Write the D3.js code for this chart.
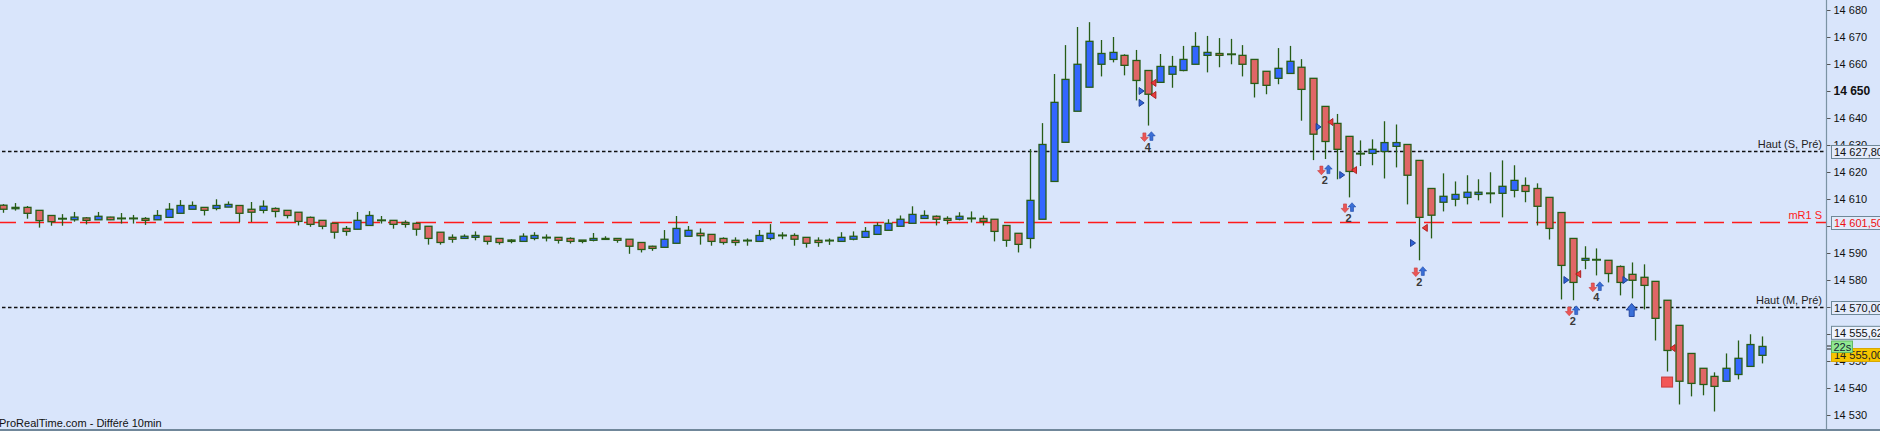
<!DOCTYPE html>
<html><head><meta charset="utf-8">
<script src="https://cdn.jsdelivr.net/npm/d3@7"></script>
<style>
html,body{margin:0;padding:0;background:#d9e5fb;overflow:hidden}
svg{display:block}
text{font-family:"Liberation Sans",Arial,Helvetica,sans-serif}
</style></head><body>
<svg id="c" width="1880" height="431"></svg>
<script>
// ---- DATA ----
const opens=[14607.7,14606.4,14606.9,14605.8,14603.9,14602.7,14602.3,14603.0,14602.3,14603.3,
14602.8,14602.8,14602.8,14602.3,14603.2,14604.7,14606.2,14606.9,14606.5,14607.0,
14607.6,14606.2,14605.8,14606.5,14605.8,14605.1,14603.2,14602.1,14601.0,14599.1,
14598.8,14600.2,14602.1,14602.1,14601.3,14601.0,14599.9,14597.7,14595.8,14595.4,
14595.8,14596.2,14595.4,14594.8,14594.3,14595.4,14595.7,14595.8,14595.4,14594.8,
14594.7,14595.1,14595.4,14595.1,14593.9,14592.5,14592.1,14593.6,14596.2,14597.3,
14596.9,14595.4,14594.7,14594.6,14594.3,14595.4,14596.5,14596.5,14595.8,14594.7,
14594.6,14594.3,14595.1,14595.8,14596.9,14598.4,14599.9,14601.0,14602.8,14603.6,
14602.8,14602.5,14602.8,14602.8,14602.5,14600.2,14597.3,14595.4,14602.5,14616.5,
14631.0,14642.5,14651.4,14659.9,14661.7,14663.2,14661.3,14657.6,14653.2,14656.2,
14657.6,14659.9,14663.2,14663.9,14663.6,14663.2,14661.7,14657.3,14654.7,14656.5,
14658.8,14654.7,14644.3,14638.0,14633.2,14626.8,14626.9,14627.6,14629.5,14630.2,
14624.3,14613.9,14608.8,14609.9,14610.6,14611.7,14612.1,14612.1,14613.2,14615.0,
14613.9,14610.6,14605.0,14595.4,14587.3,14587.5,14587.3,14585.0,14582.1,14581.0,
14579.5,14572.5,14563.2,14552.8,14547.3,14544.3,14542.5,14545.0,14548.0,14552.1];
const highs=[14608.1,14608.5,14607.4,14605.9,14604.0,14604.4,14605.2,14603.3,14605.2,14603.4,
14604.8,14604.1,14603.3,14605.9,14608.5,14609.6,14609.1,14606.9,14609.9,14609.1,
14607.7,14608.9,14609.5,14606.9,14605.8,14605.1,14603.5,14602.1,14601.0,14600.0,
14605.2,14605.5,14603.7,14602.1,14602.1,14601.3,14599.9,14597.7,14596.9,14596.9,
14598.0,14596.2,14595.4,14595.1,14597.3,14597.7,14596.9,14595.8,14595.8,14594.8,
14597.4,14596.2,14595.4,14595.1,14593.9,14592.7,14598.5,14603.7,14600.0,14599.1,
14596.9,14595.8,14595.8,14595.4,14598.5,14600.7,14597.7,14597.3,14595.8,14595.8,
14595.4,14597.7,14598.0,14599.6,14601.3,14602.5,14603.9,14607.3,14605.8,14603.9,
14603.6,14605.1,14605.4,14603.9,14602.5,14600.2,14597.3,14628.5,14638.1,14656.3,
14667.0,14673.7,14675.5,14668.9,14670.0,14663.6,14665.2,14657.6,14663.7,14663.0,
14666.7,14671.8,14670.4,14669.6,14669.3,14667.0,14661.7,14657.3,14665.9,14666.7,
14661.8,14654.7,14644.3,14641.5,14633.2,14631.7,14632.1,14638.8,14637.6,14630.2,
14624.3,14613.9,14619.5,14616.5,14618.8,14617.3,14619.9,14624.3,14622.5,14618.0,
14615.8,14610.6,14605.0,14595.4,14592.5,14591.7,14587.3,14585.4,14586.5,14585.8,
14579.5,14572.5,14563.2,14552.8,14547.3,14545.8,14552.8,14557.6,14559.9,14559.1];
const lows=[14604.9,14605.7,14602.7,14599.4,14600.1,14600.1,14601.6,14600.6,14602.3,14602.2,
14600.9,14600.9,14600.4,14602.3,14603.2,14604.7,14606.2,14603.9,14605.8,14607.0,
14601.5,14601.5,14604.7,14603.2,14602.8,14600.2,14599.7,14598.8,14595.3,14596.4,
14598.8,14600.2,14600.9,14599.0,14599.4,14596.4,14593.1,14593.1,14593.8,14595.4,
14594.7,14593.1,14593.1,14593.6,14594.3,14594.7,14594.3,14593.5,14593.5,14593.6,
14594.3,14595.1,14593.8,14589.7,14590.2,14590.8,14592.1,14593.6,14596.2,14593.1,
14592.7,14593.1,14592.7,14592.7,14594.3,14594.7,14595.1,14592.7,14592.0,14592.3,
14593.0,14594.3,14594.7,14595.8,14596.9,14598.4,14599.9,14601.0,14602.8,14600.2,
14600.6,14602.1,14601.3,14600.2,14594.3,14592.3,14590.2,14591.7,14602.5,14616.5,
14631.0,14642.5,14651.4,14655.4,14660.6,14655.8,14646.5,14637.2,14653.2,14651.2,
14657.3,14659.9,14656.9,14658.8,14659.9,14655.4,14647.6,14648.8,14652.5,14656.5,
14639.0,14624.4,14624.8,14617.3,14610.6,14622.2,14622.5,14617.6,14621.7,14608.0,
14587.3,14595.4,14605.4,14607.3,14608.0,14609.5,14608.4,14603.2,14610.6,14608.8,
14600.2,14595.0,14572.8,14572.5,14584.0,14581.7,14579.1,14574.3,14573.2,14569.1,
14557.6,14546.1,14533.9,14536.9,14537.3,14531.3,14542.5,14543.2,14548.0,14549.1];
const closes=[14606.2,14606.9,14604.7,14602.0,14601.6,14602.7,14603.3,14602.1,14603.6,14602.3,
14602.8,14602.8,14602.1,14603.9,14606.2,14607.6,14607.6,14605.8,14607.6,14608.0,
14604.7,14605.1,14607.3,14605.4,14603.9,14601.7,14600.6,14599.9,14597.7,14598.0,
14602.1,14603.9,14602.1,14600.6,14600.6,14598.8,14595.4,14593.9,14595.1,14596.2,
14596.5,14594.3,14593.9,14594.3,14596.2,14596.5,14595.7,14594.7,14594.3,14594.3,
14595.4,14595.4,14594.7,14592.5,14591.3,14591.7,14595.1,14599.1,14598.4,14596.4,
14594.3,14593.9,14593.9,14594.6,14596.5,14597.3,14596.5,14595.1,14593.6,14593.9,
14594.6,14595.8,14596.2,14598.0,14600.2,14601.0,14602.5,14604.3,14603.9,14602.5,
14602.1,14603.6,14602.8,14601.7,14598.0,14594.7,14593.2,14609.5,14630.2,14645.8,
14654.3,14659.9,14668.4,14663.9,14664.3,14659.5,14653.9,14648.8,14659.1,14659.1,
14661.7,14666.5,14664.3,14663.2,14663.6,14659.9,14652.8,14652.1,14658.4,14661.0,
14650.6,14634.0,14631.3,14628.4,14620.2,14626.8,14628.4,14630.9,14630.9,14618.8,
14603.2,14604.0,14611.0,14611.7,14612.5,14612.5,14612.1,14614.7,14616.9,14612.8,
14607.3,14599.1,14585.4,14579.1,14588.0,14587.5,14582.4,14579.1,14579.9,14578.0,
14565.8,14553.9,14542.5,14541.7,14541.3,14540.6,14547.3,14551.0,14556.1,14555.4];

const yTicks=[14530,14540,14550,14560,14570,14580,14590,14600,14610,14620,14630,14640,14650,14660,14670,14680];
const boldTick=14650;

const levelValues=[14627.8,14601.5,14570.0];
const levelLabels=["Haut (S, Pré)","mR1 S","Haut (M, Pré)"];
const levelBoxes=["14 627,80","14 601,50","14 570,00"];
const levelKinds=["black","red","black"];

// signal markers [candle index, price]
const buyTriangles=[[96,14650.0],[96,14645.6],[111,14636.7],[113,14618.9],[119,14593.7],[132,14580.0],[137,14580.0]];
const sellTriangles=[[97,14653.0],[97,14648.5],[112,14638.5],[114,14620.7],[120,14599.3],[133,14582.2],[141,14554.8]];
const arrowPairs=[[97,14633.0,"4"],[112,14620.7,"2"],[114,14606.7,"2"],[120,14583.0,"2"],[133,14568.5,"2"],[135,14577.4,"4"]];
const bigArrows=[[138,14568.9]];
const squares=[[141,14542.2]];

const lastPrice=14555.62, lastBoxPrice=14555.00, timerLabel="22s";
const footer="ProRealTime.com - Différé 10min";

// ---- DRAW ----
const W=1880,H=431,axisX=1826.5;
const svg=d3.select("#c");
svg.append("rect").attr("width",W).attr("height",H).attr("fill","#d9e5fb");

const x=d3.scaleLinear().domain([0,149]).range([3.3,3.3+149*11.8]);
const y=d3.scaleLinear().domain([14530,14680]).range([415,10]);

const edge="#275c16", upFill="#3366ff", dnFill="#e06666";

// level lines
const lv=svg.append("g");
levelValues.forEach((v,i)=>{
  const yy=Math.round(y(v))+0.5;
  const red=levelKinds[i]==="red";
  lv.append("line").attr("x1",0).attr("x2",axisX).attr("y1",yy).attr("y2",yy)
    .attr("stroke",red?"#ff1a1a":"#111").attr("stroke-width",red?1.6:1.3)
    .attr("stroke-dasharray",red?"20,8":"3.5,2.5").attr("stroke-dashoffset",red?4:4);
  lv.append("text").attr("x",1822).attr("y",yy-3.5).attr("text-anchor","end")
    .attr("font-size",11).attr("fill",red?"#ff1a1a":"#222").text(levelLabels[i]);
});

// candles
const g=svg.append("g");
const idx=d3.range(opens.length);
g.selectAll("line.w").data(idx).join("line").attr("class","w")
  .attr("x1",i=>Math.round(x(i))+0.5).attr("x2",i=>Math.round(x(i))+0.5)
  .attr("y1",i=>y(highs[i])).attr("y2",i=>y(lows[i]))
  .attr("stroke",edge).attr("stroke-width",1.3);
const bodies=idx.filter(i=>opens[i]!==closes[i]);
g.selectAll("rect.b").data(bodies).join("rect").attr("class","b")
  .attr("x",i=>Math.round(x(i))+0.5-3.5).attr("width",7)
  .attr("y",i=>y(Math.max(opens[i],closes[i])))
  .attr("height",i=>Math.max(1,Math.abs(y(opens[i])-y(closes[i]))))
  .attr("fill",i=>closes[i]>opens[i]?upFill:dnFill)
  .attr("stroke",edge).attr("stroke-width",1.3);
const dojis=idx.filter(i=>opens[i]===closes[i]);
g.selectAll("line.d").data(dojis).join("line").attr("class","d")
  .attr("x1",i=>Math.round(x(i))+0.5-4.5).attr("x2",i=>Math.round(x(i))+0.5+4.5)
  .attr("y1",i=>y(opens[i])).attr("y2",i=>y(opens[i]))
  .attr("stroke",edge).attr("stroke-width",2);

// markers
const mk=svg.append("g");
buyTriangles.forEach(([i,v])=>{
  const cx=x(i), cy=y(v);
  mk.append("path").attr("d",`M${cx+3},${cy-3.5}L${cx+8},${cy}L${cx+3},${cy+3.5}Z`)
    .attr("fill","#2f62d6").attr("stroke","#18398f").attr("stroke-width",0.9);
});
sellTriangles.forEach(([i,v])=>{
  const cx=x(i), cy=y(v);
  mk.append("path").attr("d",`M${cx+8},${cy-3.5}L${cx+3},${cy}L${cx+8},${cy+3.5}Z`)
    .attr("fill","#ea3c3c").attr("stroke","#a81818").attr("stroke-width",0.9);
});
function downArrow(cx,cy){return `M${cx-1.5},${cy-4.5}h3v4.5h2.3l-3.8,4.2l-3.8,-4.2h2.3Z`;}
function upArrow(cx,cy){return `M${cx-1.5},${cy+4.5}h3v-4.5h2.3l-3.8,-4.2l-3.8,4.2h2.3Z`;}
arrowPairs.forEach(([i,v,n])=>{
  const cx=x(i), cy=y(v);
  mk.append("path").attr("d",downArrow(cx-3.5,cy+0.5)).attr("fill","#ec5555").attr("stroke","#c43a3a").attr("stroke-width",0.6);
  mk.append("path").attr("d",upArrow(cx+3.5,cy-1)).attr("fill","#3a6ed6").attr("stroke","#1f4aa8").attr("stroke-width",0.6);
  mk.append("text").attr("x",cx).attr("y",cy+14).attr("text-anchor","middle")
    .attr("font-size",11).attr("font-weight","bold").attr("fill","#3a3a3a").text(n);
});
bigArrows.forEach(([i,v])=>{
  const cx=x(i), cy=y(v);
  mk.append("path").attr("d",`M${cx-2.5},${cy+6.5}h5v-6.5h3l-5.5,-6.5l-5.5,6.5h3Z`)
    .attr("fill","#3a6fd8").attr("stroke","#1e3f9a").attr("stroke-width",0.9);
});
squares.forEach(([i,v])=>{
  const cx=x(i), cy=y(v);
  mk.append("rect").attr("x",cx-5.5).attr("y",cy-5).attr("width",11).attr("height",10)
    .attr("fill","#f25757").attr("stroke","#c83c3c").attr("stroke-width",1);
});

// axis
const loc=d3.formatLocale({decimal:",",thousands:" ",grouping:[3],currency:["",""]});
const fmt=loc.format(",d");
const ax=svg.append("g").attr("transform",`translate(${axisX},0)`)
  .call(d3.axisRight(y).tickValues(yTicks).tickSize(4).tickPadding(3).tickFormat(fmt));
ax.select(".domain").remove();
ax.selectAll(".tick line").attr("stroke","#555");
ax.selectAll(".tick text").attr("font-size",11).attr("fill","#111")
  .attr("font-family","'Liberation Sans',Arial,sans-serif");
ax.selectAll(".tick text").filter(d=>d===boldTick).attr("font-weight","bold").attr("font-size",12);
svg.append("line").attr("x1",axisX).attr("x2",axisX).attr("y1",0).attr("y2",H)
  .attr("stroke","#7b93a3").attr("stroke-width",1.2);

// price boxes
function box(cy,txt,fill,stroke,col){
  const b=svg.append("g");
  b.append("rect").attr("x",1831.5).attr("y",cy-6.5).attr("width",60).attr("height",13)
    .attr("fill",fill).attr("stroke",stroke).attr("stroke-width",1);
  b.append("text").attr("x",1834).attr("y",cy+4).attr("font-size",11).attr("fill",col).text(txt);
}
levelValues.forEach((v,i)=>{
  const red=levelKinds[i]==="red";
  box(Math.round(y(v))+1,levelBoxes[i],"#e3ebfb","#6f8898",red?"#ee1111":"#111");
});
box(y(lastPrice)-13,fmt(Math.floor(lastPrice))+","+String(Math.round((lastPrice%1)*100)).padStart(2,"0"),"#eef3fe","#6f8898","#111");
box(y(lastBoxPrice)+7.5,"14 555,00","#f5c400","#d8a800","#222");
// last price markers
const yl=y(lastBoxPrice);
svg.append("line").attr("x1",1827).attr("x2",1831).attr("y1",yl-1.5).attr("y2",yl-1.5).attr("stroke","#222");
svg.append("line").attr("x1",1827).attr("x2",1831).attr("y1",yl+1.5).attr("y2",yl+1.5).attr("stroke","#222");
// timer box
svg.append("rect").attr("x",1831.5).attr("y",yl-6.5).attr("width",21).attr("height",11.5)
  .attr("fill","#90e890").attr("stroke","#62b862").attr("stroke-width",1);
svg.append("text").attr("x",1833.5).attr("y",yl+3.5).attr("font-size",11).attr("fill","#123").text(timerLabel);

// footer
svg.append("text").attr("x",-1).attr("y",427).attr("font-size",11).attr("fill","#111").text(footer);
svg.append("rect").attr("x",0).attr("y",429).attr("width",W).attr("height",2).attr("fill","#70879a");
</script>
</body></html>
